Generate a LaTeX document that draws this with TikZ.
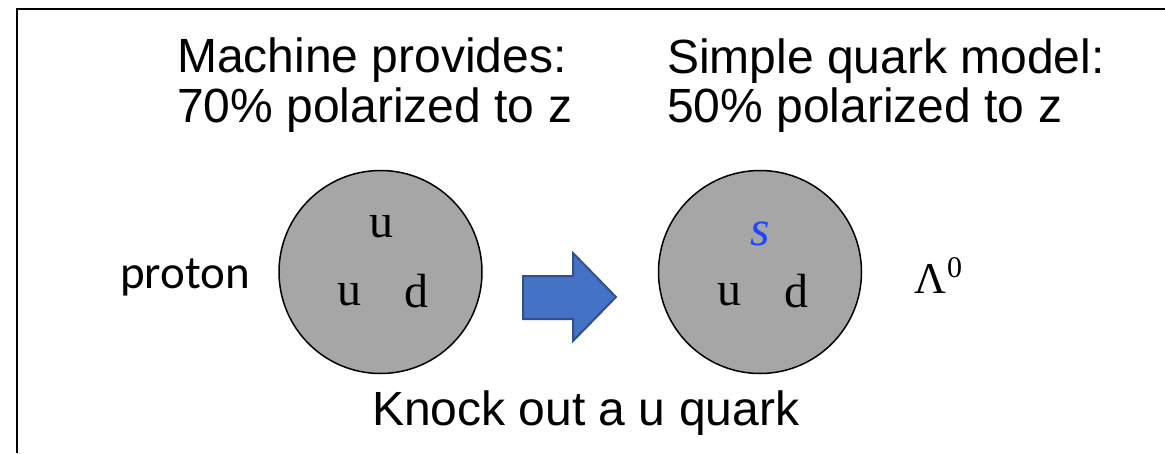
\documentclass[tikz,border=0pt]{standalone}
\usepackage{fontspec}
\setmainfont{Liberation Sans}
\newfontfamily\quarkfont{Liberation Serif}
\newfontfamily\labfont{Carlito}
\definecolor{ballgray}{HTML}{A6A6A6}
\definecolor{arrowfill}{HTML}{4472C4}
\definecolor{arrowline}{HTML}{2F528F}
\definecolor{sblue}{RGB}{30,70,255}
\begin{document}
\begin{tikzpicture}[x=1pt,y=-1pt,
  txt/.style={inner sep=0pt,anchor=base west,font=\fontsize{48}{56}\selectfont},
  qk/.style={inner sep=0pt,anchor=base,font=\quarkfont\fontsize{48}{56}\selectfont},
  ball/.style={circle,draw=black,line width=1.5pt,fill=ballgray,minimum size=203pt,inner sep=0pt}]
\useasboundingbox (0,0) rectangle (1165,453);
% frame
\draw[line width=2.5pt] (17,453) -- (17,9) -- (1165,9);
% headings
\node[txt] (m1) at (177,72) {Machine provides:};
\node[txt] (m2) at (177,122) {70\% polarized to z};
\node[txt] (q1) at (667,73) {Simple quark model:};
\node[txt] (q2) at (667,122) {50\% polarized to z};
% particles
\node[ball] (p) at (380.5,272) {};
\node[ball] (l) at (760,272) {};
\node[qk] (pu1) at (381,237) {u};
\node[qk] (pu2) at (349,305) {u};
\node[qk] (pd) at (416,307) {d};
\node[qk,text=sblue,font=\quarkfont\itshape\fontsize{50}{56}\selectfont] (ls) at (760,245) {s};
\node[qk] (lu) at (729,305) {u};
\node[qk] (ld) at (796,307) {d};
\node[inner sep=0pt,anchor=base west,font=\quarkfont\fontsize{44}{50}\selectfont] (lam) at (914,293) {Λ\kern1pt\raisebox{16pt}{\fontsize{30}{30}\selectfont 0}};
\node[inner sep=0pt,anchor=base west,font=\labfont\fontsize{47}{54}\selectfont] (pr) at (120,288) {proton};
% block arrow
\filldraw[fill=arrowfill,draw=arrowline,line width=2pt,line join=miter]
  (523,276) -- (573,276) -- (573,253) -- (616,297) -- (573,341) -- (573,319) -- (523,319) -- cycle;
\node[txt] (k) at (372,425) {Knock out a u quark};
\end{tikzpicture}
\end{document}
